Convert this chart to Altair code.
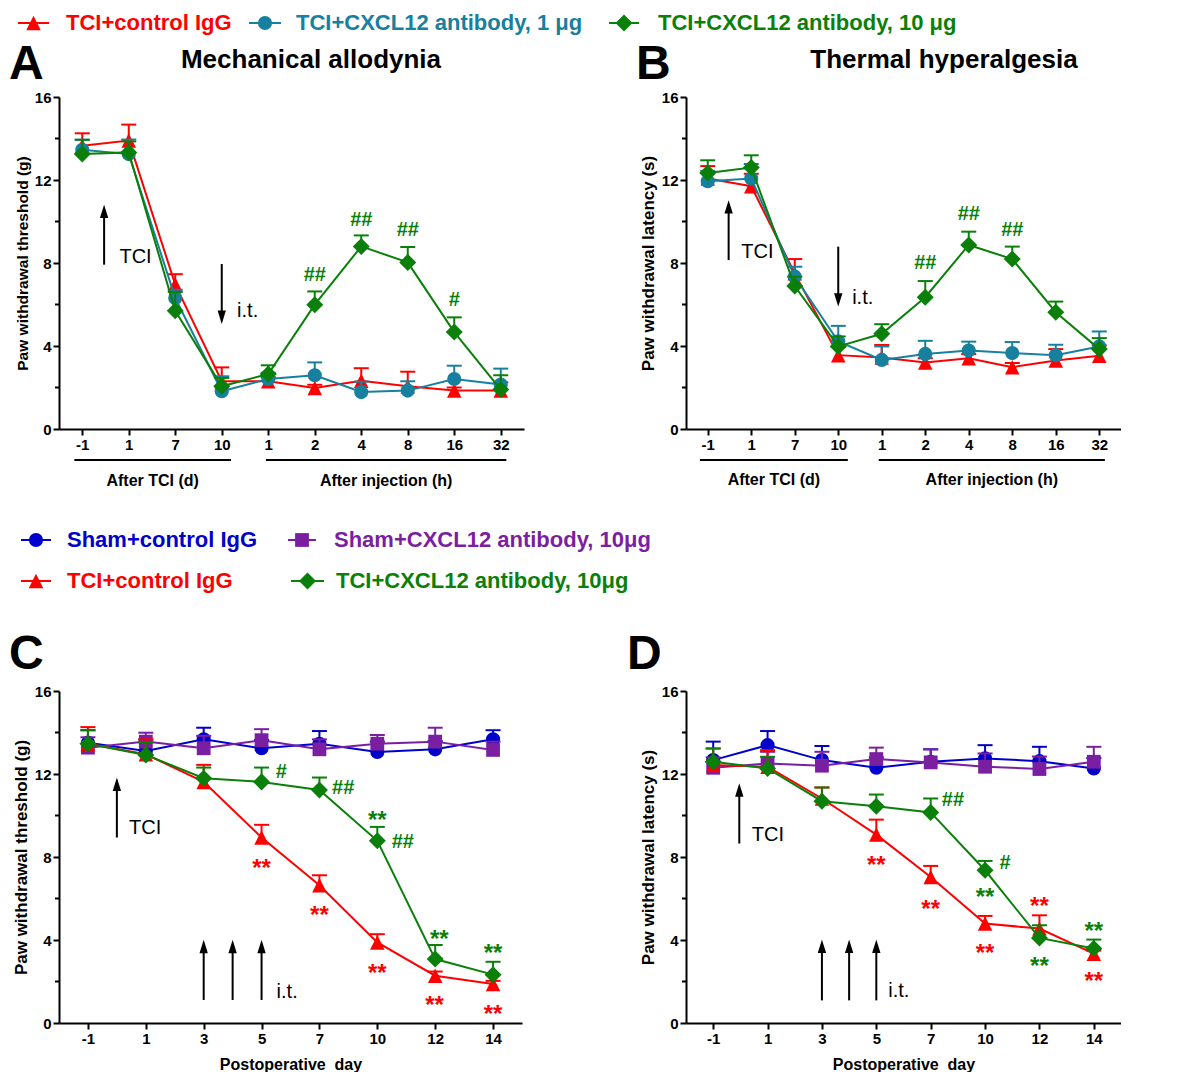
import json
import altair as alt
import pandas as pd

# ---------------- category labels ----------------
AB_LABELS = ["-1", "1", "7", "10", "1", "2", "4", "8", "16", "32"]
CD_LABELS = ["-1", "1", "3", "5", "7", "10", "12", "14"]

# ---------------- Panel A: mechanical allodynia (g) ----------------
A_RED_MEAN = [13.65, 13.9, 6.96, 2.3, 2.3, 1.98, 2.33, 2.06, 1.85, 1.85]
A_RED_ERR = [0.6, 0.77, 0.5, 0.67, 0.2, 0.15, 0.6, 0.7, 0.15, 0.4]
A_TEAL_MEAN = [13.46, 13.25, 6.31, 1.82, 2.41, 2.59, 1.78, 1.85, 2.41, 2.14]
A_TEAL_ERR = [0.48, 0.7, 0.4, 0.72, 0.3, 0.62, 0.5, 0.45, 0.64, 0.77]
A_GREEN_MEAN = [13.25, 13.33, 5.70, 2.06, 2.65, 5.99, 8.80, 8.03, 4.67, 1.9]
A_GREEN_ERR = [0.69, 0.53, 0.9, 0.4, 0.42, 0.64, 0.53, 0.74, 0.71, 0.69]

# ---------------- Panel B: thermal hyperalgesia (s) ----------------
B_RED_MEAN = [12.07, 11.7, 7.5, 3.56, 3.45, 3.21, 3.41, 2.98, 3.30, 3.53]
B_RED_ERR = [0.6, 0.6, 0.69, 0.4, 0.6, 0.2, 0.2, 0.2, 0.55, 0.5]
B_TEAL_MEAN = [11.94, 12.07, 7.34, 4.22, 3.33, 3.62, 3.78, 3.66, 3.56, 3.98]
B_TEAL_ERR = [0.5, 0.7, 0.48, 0.75, 0.65, 0.63, 0.43, 0.53, 0.5, 0.72]
B_GREEN_MEAN = [12.34, 12.6, 6.89, 3.98, 4.59, 6.35, 8.87, 8.19, 5.63, 3.85]
B_GREEN_ERR = [0.61, 0.59, 0.45, 0.48, 0.46, 0.78, 0.64, 0.6, 0.51, 0.53]

# ---------------- Panel C: threshold (g) ----------------
C_BLUE_MEAN = [13.51, 13.11, 13.67, 13.24, 13.46, 13.06, 13.19, 13.67]
C_BLUE_ERR = [0.6, 0.55, 0.56, 0.4, 0.61, 0.5, 0.4, 0.44]
C_PURPLE_MEAN = [13.27, 13.56, 13.24, 13.63, 13.19, 13.46, 13.56, 13.16]
C_PURPLE_ERR = [0.5, 0.43, 0.6, 0.53, 0.48, 0.42, 0.67, 0.4]
C_RED_MEAN = [13.46, 12.95, 11.62, 8.94, 6.64, 3.88, 2.28, 1.88]
C_RED_ERR = [0.8, 0.72, 0.82, 0.61, 0.48, 0.4, 0.2, 0.15]
C_GREEN_MEAN = [13.46, 12.92, 11.8, 11.62, 11.23, 8.78, 3.08, 2.33]
C_GREEN_ERR = [0.65, 0.6, 0.51, 0.69, 0.6, 0.67, 0.68, 0.62]

# ---------------- Panel D: latency (s) ----------------
D_BLUE_MEAN = [12.67, 13.39, 12.67, 12.30, 12.59, 12.75, 12.62, 12.27]
D_BLUE_ERR = [0.89, 0.68, 0.68, 0.5, 0.6, 0.64, 0.69, 0.5]
D_PURPLE_MEAN = [12.30, 12.51, 12.40, 12.72, 12.56, 12.35, 12.24, 12.59]
D_PURPLE_ERR = [0.5, 0.56, 0.67, 0.55, 0.63, 0.64, 0.6, 0.72]
D_RED_MEAN = [12.43, 12.35, 10.82, 9.08, 7.04, 4.79, 4.55, 3.34]
D_RED_ERR = [0.8, 0.8, 0.53, 0.72, 0.53, 0.37, 0.64, 0.15]
D_GREEN_MEAN = [12.59, 12.27, 10.69, 10.45, 10.15, 7.36, 4.10, 3.59]
D_GREEN_ERR = [0.64, 0.56, 0.66, 0.56, 0.67, 0.45, 0.61, 0.43]

# ---------------- significance marks (text, category index, value) ----------------
A_HASH_G = [("##", 5, 7.44), ("##", 6, 10.09), ("##", 7, 9.57), ("#", 8, 6.23)]
B_HASH_G = [("##", 5, 7.98), ("##", 6, 10.36), ("##", 7, 9.59)]
C_HASH_G = [("#", 3.34, 12.1), ("##", 4.41, 11.31), ("##", 5.44, 8.73)]
C_STAR_G = [("**", 5, 10.06), ("**", 6.07, 4.32), ("**", 7, 3.64)]
C_STAR_R = [("**", 3, 7.74), ("**", 4, 5.49), ("**", 5, 2.71), ("**", 5.99, 1.16), ("**", 7, 0.72)]
D_HASH_G = [("##", 4.41, 10.74), ("#", 5.37, 7.72)]
D_STAR_G = [("**", 5, 6.35), ("**", 6, 3.06), ("**", 7, 4.71)]
D_STAR_R = [("**", 3, 7.90), ("**", 4, 5.80), ("**", 5, 3.67), ("**", 6, 5.92), ("**", 7, 2.30)]

# ---------------- arrows (index, start value, tip value) and their labels ----------------
A_ARROWS = [(0.47, 7.92, 10.81), (3.0, 7.95, 5.06)]
A_NOTES = [("TCI", 0.8, 8.3), ("i.t.", 3.33, 5.67)]
B_ARROWS = [(0.48, 8.14, 11.03), (3.0, 8.79, 5.9)]
B_NOTES = [("TCI", 0.77, 8.55), ("i.t.", 3.32, 6.3)]
C_ARROWS = [(0.5, 8.94, 11.83), (2.0, 1.11, 4.01), (2.5, 1.11, 4.01), (3.0, 1.11, 4.01)]
C_NOTES = [("TCI", 0.71, 9.39), ("i.t.", 3.26, 1.48)]
D_ARROWS = [(0.48, 8.65, 11.55), (2.0, 1.09, 4.02), (2.5, 1.09, 4.02), (3.0, 1.09, 4.02)]
D_NOTES = [("TCI", 0.71, 9.08), ("i.t.", 3.22, 1.53)]

# group brackets under the x axis (A and B)
A_GROUPS = [("After TCI (d)", -0.17, 3.2), ("After injection (h)", 3.95, 9.12)]
B_GROUPS = [("After TCI (d)", -0.18, 3.22), ("After injection (h)", 3.93, 9.13)]

# ---------------- styles ----------------
FONT = "Liberation Sans"
RED, TEAL, GREEN, BLUE, PURPLE = "#FF0000", "#17809E", "#0A800A", "#0000CC", "#7B1FA2"
TRI = "M0,-1L1,1L-1,1Z"
CAP = "M-1,0L1,0"
HEAD_UP = "M-0.62,2L0,0L0.62,2Z"
HEAD_DN = "M-0.62,-2L0,0L0.62,-2Z"
SHAPES = {"tri": (TRI, 210), "circle": ("circle", 200), "diamond": ("diamond", 290), "square": ("square", 190)}

dummy = pd.DataFrame({"k": [0]})


class Enc:
    def __init__(self, n, labels, ytitle, ytitle_size, xtitle):
        self.xscale = alt.Scale(domain=[-0.5, n - 0.5], nice=False, zero=False)
        self.xaxis = alt.Axis(values=list(range(n)), labelExpr=json.dumps(labels) + "[datum.value]",
                              title=xtitle, titleFontSize=16, titlePadding=10, labelAngle=0,
                              labelFlush=False, labelOverlap=False)
        self.yscale = alt.Scale(domain=[0, 16], nice=False, zero=True)
        self.yaxis = alt.Axis(values=[0, 4, 8, 12, 16], title=ytitle, titleFontSize=ytitle_size,
                              titlePadding=4, labelFlush=False)

    def x(self, field="idx"):
        return alt.X(f"{field}:Q", scale=self.xscale, axis=self.xaxis)

    def y(self, field="val"):
        return alt.Y(f"{field}:Q", scale=self.yscale, axis=self.yaxis)


def series_layers(E, mean, err, color, shape_key):
    shape, size = SHAPES[shape_key]
    n = len(mean)
    d = pd.DataFrame({"idx": list(range(n)), "val": mean,
                      "top": [m + e for m, e in zip(mean, err)]})
    caps = pd.DataFrame({"idx": list(range(n)), "val": d["top"]})
    return [
        alt.Chart(d).mark_rule(color=color, strokeWidth=2).encode(x=E.x(), y=E.y(), y2="top:Q"),
        alt.Chart(caps).mark_point(shape=CAP, size=225, color=color, strokeWidth=2,
                                   filled=False, opacity=1).encode(x=E.x(), y=E.y()),
        alt.Chart(d).mark_line(color=color, strokeWidth=2).encode(x=E.x(), y=E.y()),
        alt.Chart(d).mark_point(shape=shape, size=size, filled=True, color=color,
                                opacity=1).encode(x=E.x(), y=E.y()),
    ]


def sig_layer(E, items, color, size, dy):
    d = pd.DataFrame(items, columns=["txt", "idx", "val"])
    return alt.Chart(d).mark_text(color=color, fontSize=size, fontWeight="bold", font=FONT,
                                  align="center", baseline="middle", dy=dy).encode(
        x=E.x(), y=E.y(), text="txt:N")


def arrow_layers(E, arrows, notes):
    shafts, ups, downs = [], [], []
    for i, s, t in arrows:
        sign = 1 if t > s else -1
        shafts.append({"idx": i, "val": s, "top": t - sign * 0.3})
        (ups if sign > 0 else downs).append({"idx": i, "val": t})
    out = [alt.Chart(pd.DataFrame(shafts)).mark_rule(color="black", strokeWidth=2).encode(
        x=E.x(), y=E.y(), y2="top:Q")]
    if ups:
        out.append(alt.Chart(pd.DataFrame(ups)).mark_point(
            shape=HEAD_UP, size=180, filled=True, color="black", opacity=1).encode(x=E.x(), y=E.y()))
    if downs:
        out.append(alt.Chart(pd.DataFrame(downs)).mark_point(
            shape=HEAD_DN, size=180, filled=True, color="black", opacity=1).encode(x=E.x(), y=E.y()))
    nd = pd.DataFrame(notes, columns=["txt", "idx", "val"])
    out.append(alt.Chart(nd).mark_text(color="black", fontSize=20, font=FONT, align="left",
                                       baseline="middle").encode(x=E.x(), y=E.y(), text="txt:N"))
    return out


def minor_ticks(E):
    d = pd.DataFrame({"val": [2, 6, 10, 14]})
    return alt.Chart(d).mark_rule(color="black", strokeWidth=2).encode(
        y=E.y(), x=alt.value(-4), x2=alt.value(0))


def group_layers(E, groups, y_line, y_text):
    d = pd.DataFrame(groups, columns=["txt", "idx", "idx2"])
    d["mid"] = (d["idx"] + d["idx2"]) / 2
    rule = alt.Chart(d).mark_rule(color="black", strokeWidth=2).encode(
        x=E.x(), x2="idx2:Q", y=alt.value(y_line))
    text = alt.Chart(d).mark_text(fontSize=16, fontWeight="bold", font=FONT, color="black",
                                  align="center", baseline="middle").encode(
        x=E.x("mid"), y=alt.value(y_text), text="txt:N")
    return [rule, text]


def ptext(txt, x, y, size, color="black", bold=True, align="left", baseline="middle"):
    return alt.Chart(dummy).mark_text(fontSize=size, fontWeight="bold" if bold else "normal",
                                      font=FONT, color=color, align=align,
                                      baseline=baseline).encode(
        x=alt.value(x), y=alt.value(y), text=alt.value(txt))


def glyph(x0, x1, y, color, shape_key):
    shape, size = SHAPES[shape_key]
    r = alt.Chart(dummy).mark_rule(color=color, strokeWidth=2).encode(
        x=alt.value(x0), x2=alt.value(x1), y=alt.value(y))
    p = alt.Chart(dummy).mark_point(shape=shape, size=size, filled=True, color=color,
                                    opacity=1).encode(x=alt.value((x0 + x1) / 2), y=alt.value(y))
    return [r, p]


# ---------------- Panel A ----------------
EA = Enc(len(AB_LABELS), AB_LABELS, "Paw withdrawal threshold (g)", 15.5, None)
LEG_Y = -74
layers_a = [alt.Chart(dummy).mark_point(opacity=0, size=1).encode(
    x=alt.value(-50), y=alt.value(-88)), minor_ticks(EA)]
layers_a += series_layers(EA, A_RED_MEAN, A_RED_ERR, RED, "tri")
layers_a += series_layers(EA, A_TEAL_MEAN, A_TEAL_ERR, TEAL, "circle")
layers_a += series_layers(EA, A_GREEN_MEAN, A_GREEN_ERR, GREEN, "diamond")
layers_a += [sig_layer(EA, A_HASH_G, GREEN, 20, 0)]
layers_a += arrow_layers(EA, A_ARROWS, A_NOTES)
layers_a += group_layers(EA, A_GROUPS, 363, 384)
layers_a += [ptext("A", -50, -18, 48, baseline="alphabetic"),
             ptext("Mechanical allodynia", 252, -29, 26, align="center", baseline="alphabetic")]
layers_a += glyph(-41, -10, LEG_Y, RED, "tri") + [ptext("TCI+control IgG", 7, LEG_Y, 22, RED)]
layers_a += glyph(190, 222, LEG_Y, TEAL, "circle") + [
    ptext("TCI+CXCL12 antibody, 1 \u03bcg", 237, LEG_Y, 22, TEAL)]
layers_a += glyph(550, 580, LEG_Y, GREEN, "diamond") + [
    ptext("TCI+CXCL12 antibody, 10 \u03bcg", 599, LEG_Y, 22, GREEN)]
panel_a = alt.layer(*layers_a).properties(width=465, height=332)

# ---------------- Panel B ----------------
EB = Enc(len(AB_LABELS), AB_LABELS, "Paw withdrawal latency (s)", 17, None)
layers_b = [minor_ticks(EB)]
layers_b += series_layers(EB, B_RED_MEAN, B_RED_ERR, RED, "tri")
layers_b += series_layers(EB, B_TEAL_MEAN, B_TEAL_ERR, TEAL, "circle")
layers_b += series_layers(EB, B_GREEN_MEAN, B_GREEN_ERR, GREEN, "diamond")
layers_b += [sig_layer(EB, B_HASH_G, GREEN, 20, 0)]
layers_b += arrow_layers(EB, B_ARROWS, B_NOTES)
layers_b += group_layers(EB, B_GROUPS, 363, 383)
layers_b += [ptext("B", -50, -18, 48, baseline="alphabetic"),
             ptext("Thermal hyperalgesia", 258, -29, 26, align="center", baseline="alphabetic")]
panel_b = alt.layer(*layers_b).properties(width=435, height=332)

# ---------------- Panel C ----------------
XTITLE = "Postoperative \u00a0day"
EC = Enc(len(CD_LABELS), CD_LABELS, "Paw withdrawal threshold (g)", 17, XTITLE)
layers_c = [minor_ticks(EC)]
layers_c += series_layers(EC, C_BLUE_MEAN, C_BLUE_ERR, BLUE, "circle")
layers_c += series_layers(EC, C_PURPLE_MEAN, C_PURPLE_ERR, PURPLE, "square")
layers_c += series_layers(EC, C_RED_MEAN, C_RED_ERR, RED, "tri")
layers_c += series_layers(EC, C_GREEN_MEAN, C_GREEN_ERR, GREEN, "diamond")
layers_c += [sig_layer(EC, C_HASH_G, GREEN, 20, 0),
             sig_layer(EC, C_STAR_G, GREEN, 24, 7),
             sig_layer(EC, C_STAR_R, RED, 24, 7)]
layers_c += arrow_layers(EC, C_ARROWS, C_NOTES)
layers_c += [ptext("C", -50, -22, 48, baseline="alphabetic")]
layers_c += glyph(-38, -8, -151, BLUE, "circle") + [ptext("Sham+control IgG", 8, -151, 22, BLUE)]
layers_c += glyph(229, 257, -151, PURPLE, "square") + [
    ptext("Sham+CXCL12 antibody, 10\u03bcg", 275, -151, 22, PURPLE)]
layers_c += glyph(-38, -8, -110, RED, "tri") + [ptext("TCI+control IgG", 8, -110, 22, RED)]
layers_c += glyph(232, 265, -110, GREEN, "diamond") + [
    ptext("TCI+CXCL12 antibody, 10\u03bcg", 277, -110, 22, GREEN)]
panel_c = alt.layer(*layers_c).properties(width=463, height=332)

# ---------------- Panel D ----------------
ED = Enc(len(CD_LABELS), CD_LABELS, "Paw withdrawal latency (s)", 17, XTITLE)
layers_d = [minor_ticks(ED)]
layers_d += series_layers(ED, D_BLUE_MEAN, D_BLUE_ERR, BLUE, "circle")
layers_d += series_layers(ED, D_PURPLE_MEAN, D_PURPLE_ERR, PURPLE, "square")
layers_d += series_layers(ED, D_RED_MEAN, D_RED_ERR, RED, "tri")
layers_d += series_layers(ED, D_GREEN_MEAN, D_GREEN_ERR, GREEN, "diamond")
layers_d += [sig_layer(ED, D_HASH_G, GREEN, 20, 0),
             sig_layer(ED, D_STAR_G, GREEN, 24, 7),
             sig_layer(ED, D_STAR_R, RED, 24, 7)]
layers_d += arrow_layers(ED, D_ARROWS, D_NOTES)
layers_d += [ptext("D", -59, -22, 48, baseline="alphabetic")]
panel_d = alt.layer(*layers_d).properties(width=435, height=332)

chart = alt.concat(panel_a, panel_b, panel_c, panel_d, columns=2,
                   spacing={"row": 262, "column": 162}, bounds="flush").properties(
    padding=0, background="white"
).configure(font=FONT).configure_view(stroke=None).configure_axis(
    grid=False, domainColor="black", domainWidth=2, tickColor="black", tickWidth=2,
    tickSize=6, labelPadding=2, labelFont=FONT, labelFontWeight="bold", labelFontSize=15,
    labelColor="black", titleFont=FONT, titleFontWeight="bold", titleColor="black")

chart.save("out.html", embed_options={"renderer": "svg", "actions": False})
